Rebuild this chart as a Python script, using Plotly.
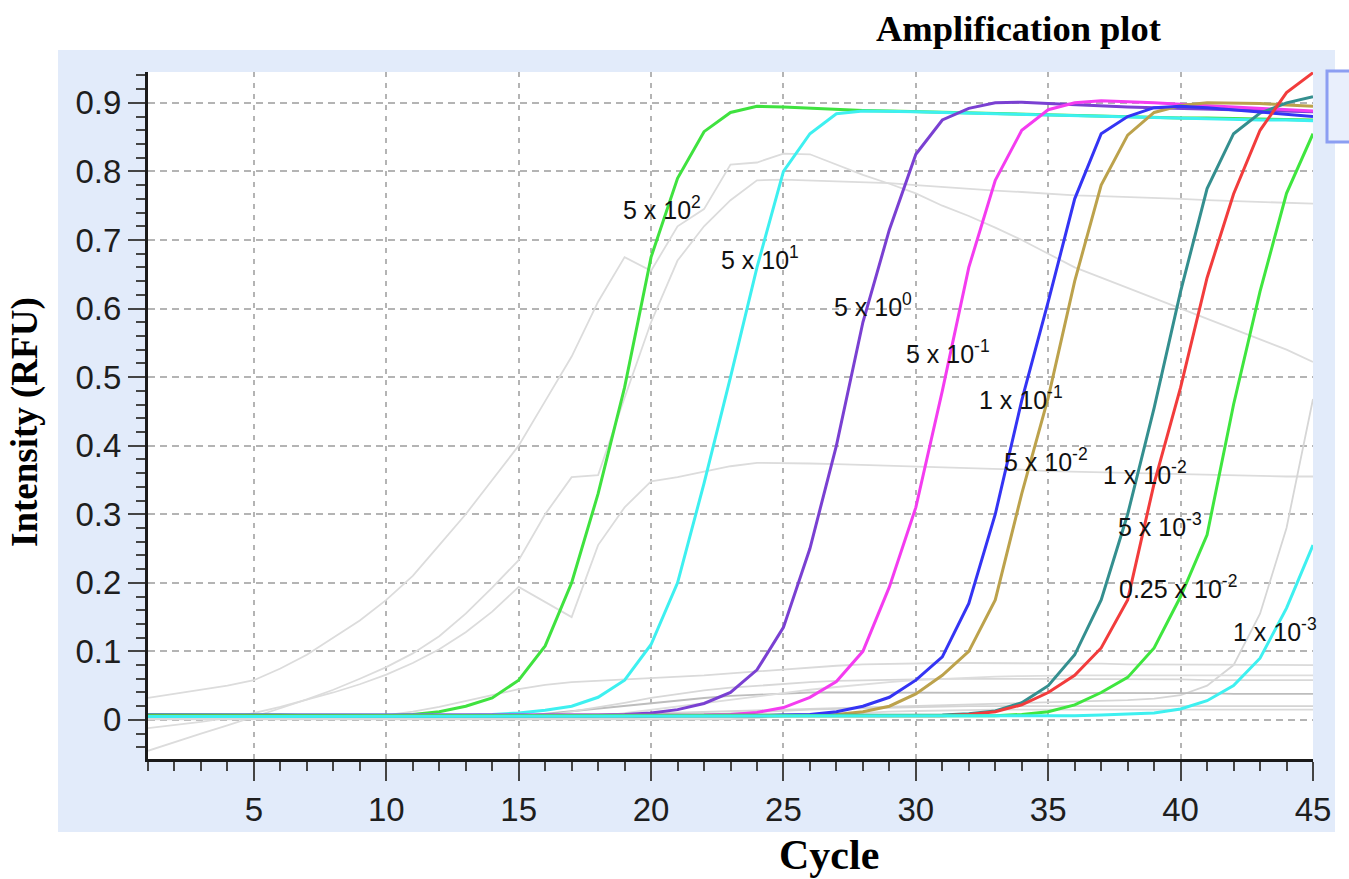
import plotly.graph_objects as go

# ---------------- data ----------------
cycles = [1, 2, 3, 4, 5, 6, 7, 8, 9, 10, 11, 12, 13, 14, 15, 16, 17, 18, 19, 20,
          21, 22, 23, 24, 25, 26, 27, 28, 29, 30, 31, 32, 33, 34, 35, 36, 37, 38, 39, 40,
          41, 42, 43, 44, 45]

# coloured amplification curves (RFU per cycle)
green_5e2 = [0.008, 0.008, 0.007, 0.007, 0.007, 0.007, 0.006, 0.006, 0.006, 0.006,
             0.008, 0.012, 0.020, 0.032, 0.058, 0.108, 0.200, 0.330, 0.485, 0.675,
             0.790, 0.858, 0.886, 0.895, 0.894, 0.892, 0.890, 0.889, 0.888, 0.887,
             0.886, 0.885, 0.884, 0.883, 0.882, 0.881, 0.880, 0.880, 0.879, 0.878,
             0.878, 0.877, 0.876, 0.876, 0.875]
cyan_5e1 = [0.007, 0.007, 0.007, 0.006, 0.006, 0.006, 0.006, 0.006, 0.006, 0.006,
            0.006, 0.006, 0.007, 0.008, 0.010, 0.014, 0.020, 0.033, 0.058, 0.110,
            0.200, 0.345, 0.500, 0.660, 0.800, 0.855, 0.884, 0.888, 0.888, 0.887,
            0.886, 0.885, 0.884, 0.883, 0.882, 0.881, 0.880, 0.879, 0.878, 0.878,
            0.877, 0.876, 0.875, 0.875, 0.874]
purple_5e0 = [0.007, 0.007, 0.006, 0.006, 0.006, 0.006, 0.006, 0.006, 0.006, 0.006,
              0.006, 0.006, 0.006, 0.006, 0.006, 0.006, 0.006, 0.007, 0.008, 0.010,
              0.015, 0.024, 0.040, 0.073, 0.135, 0.250, 0.400, 0.580, 0.715, 0.825,
              0.875, 0.892, 0.900, 0.901, 0.899, 0.897, 0.895, 0.894, 0.893, 0.892,
              0.891, 0.890, 0.889, 0.888, 0.887]
magenta_5em1 = [0.006, 0.006, 0.006, 0.006, 0.006, 0.006, 0.006, 0.006, 0.006, 0.006,
                0.006, 0.006, 0.006, 0.006, 0.006, 0.006, 0.006, 0.006, 0.006, 0.006,
                0.006, 0.007, 0.008, 0.011, 0.018, 0.033, 0.056, 0.100, 0.194, 0.310,
                0.480, 0.660, 0.787, 0.860, 0.890, 0.900, 0.903, 0.902, 0.900, 0.898,
                0.896, 0.894, 0.892, 0.890, 0.888]
blue_1em1 = [0.005, 0.005, 0.005, 0.005, 0.005, 0.005, 0.005, 0.005, 0.005, 0.005,
             0.005, 0.005, 0.005, 0.005, 0.005, 0.005, 0.005, 0.005, 0.005, 0.005,
             0.005, 0.005, 0.006, 0.006, 0.007, 0.008, 0.012, 0.020, 0.033, 0.058,
             0.092, 0.170, 0.300, 0.466, 0.610, 0.760, 0.855, 0.880, 0.893, 0.895,
             0.893, 0.890, 0.886, 0.883, 0.880]
gold_5em2 = [0.006, 0.006, 0.006, 0.006, 0.006, 0.006, 0.006, 0.006, 0.006, 0.006,
             0.006, 0.006, 0.006, 0.006, 0.006, 0.006, 0.006, 0.006, 0.006, 0.006,
             0.006, 0.006, 0.006, 0.006, 0.007, 0.007, 0.008, 0.012, 0.020, 0.038,
             0.065, 0.100, 0.175, 0.330, 0.470, 0.640, 0.780, 0.853, 0.886, 0.896,
             0.900, 0.900, 0.899, 0.897, 0.895]
teal_1em2 = [0.006, 0.006, 0.006, 0.006, 0.006, 0.006, 0.006, 0.006, 0.006, 0.006,
             0.006, 0.006, 0.006, 0.006, 0.006, 0.006, 0.006, 0.006, 0.006, 0.006,
             0.006, 0.006, 0.006, 0.006, 0.006, 0.006, 0.006, 0.006, 0.006, 0.006,
             0.007, 0.009, 0.013, 0.025, 0.050, 0.095, 0.175, 0.300, 0.455, 0.625,
             0.775, 0.855, 0.885, 0.900, 0.909]
red_5em3 = [0.006, 0.006, 0.006, 0.006, 0.006, 0.006, 0.006, 0.006, 0.006, 0.006,
            0.006, 0.006, 0.006, 0.006, 0.006, 0.006, 0.006, 0.006, 0.006, 0.006,
            0.006, 0.006, 0.006, 0.006, 0.006, 0.006, 0.006, 0.006, 0.006, 0.006,
            0.006, 0.008, 0.012, 0.022, 0.040, 0.065, 0.105, 0.175, 0.345, 0.485,
            0.645, 0.767, 0.860, 0.915, 0.944]
green_025em2 = [0.006, 0.006, 0.006, 0.006, 0.006, 0.006, 0.006, 0.006, 0.006, 0.006,
                0.006, 0.006, 0.006, 0.006, 0.006, 0.006, 0.006, 0.006, 0.006, 0.006,
                0.006, 0.006, 0.006, 0.006, 0.006, 0.006, 0.006, 0.006, 0.006, 0.006,
                0.006, 0.006, 0.006, 0.008, 0.012, 0.022, 0.040, 0.062, 0.105, 0.180,
                0.270, 0.460, 0.625, 0.768, 0.855]
cyan_1em3 = [0.005, 0.005, 0.005, 0.005, 0.005, 0.005, 0.005, 0.005, 0.005, 0.005,
             0.005, 0.005, 0.005, 0.005, 0.005, 0.005, 0.005, 0.005, 0.005, 0.005,
             0.005, 0.005, 0.005, 0.005, 0.005, 0.005, 0.005, 0.005, 0.005, 0.005,
             0.005, 0.005, 0.005, 0.005, 0.005, 0.006, 0.007, 0.008, 0.010, 0.016,
             0.028, 0.050, 0.090, 0.163, 0.255]

# grey (non-labelled) background wells
grey_a = [0.032, 0.038, 0.044, 0.050, 0.058, 0.075, 0.095, 0.120, 0.145, 0.175,
          0.210, 0.255, 0.300, 0.350, 0.400, 0.465, 0.530, 0.610, 0.675, 0.655,
          0.720, 0.745, 0.810, 0.813, 0.826, 0.825, 0.810, 0.795, 0.782, 0.768,
          0.750, 0.735, 0.718, 0.700, 0.680, 0.660, 0.645, 0.630, 0.615, 0.600,
          0.585, 0.570, 0.555, 0.540, 0.522]
grey_b = [-0.045, -0.032, -0.020, -0.008, 0.004, 0.017, 0.030, 0.044, 0.060, 0.077,
          0.097, 0.122, 0.155, 0.193, 0.233, 0.300, 0.354, 0.357, 0.470, 0.580,
          0.670, 0.720, 0.758, 0.787, 0.788, 0.787, 0.786, 0.785, 0.783, 0.780,
          0.777, 0.775, 0.772, 0.770, 0.767, 0.765, 0.764, 0.763, 0.762, 0.760,
          0.758, 0.757, 0.756, 0.754, 0.753]
grey_c = [-0.012, -0.008, -0.003, 0.003, 0.010, 0.019, 0.029, 0.040, 0.052, 0.066,
          0.083, 0.103, 0.128, 0.158, 0.194, 0.172, 0.150, 0.255, 0.310, 0.348,
          0.354, 0.362, 0.370, 0.375, 0.375, 0.374, 0.373, 0.372, 0.371, 0.370,
          0.369, 0.368, 0.366, 0.365, 0.363, 0.362, 0.361, 0.360, 0.359, 0.358,
          0.357, 0.357, 0.356, 0.355, 0.355]
grey_d = [0.003, 0.003, 0.003, 0.003, 0.003, 0.003, 0.003, 0.003, 0.003, 0.003,
          0.003, 0.003, 0.003, 0.003, 0.004, 0.005, 0.006, 0.007, 0.008, 0.010,
          0.011, 0.012, 0.013, 0.014, 0.015, 0.016, 0.017, 0.018, 0.019, 0.020,
          0.021, 0.022, 0.023, 0.024, 0.025, 0.026, 0.027, 0.029, 0.031, 0.036,
          0.050, 0.080, 0.155, 0.280, 0.468]
grey_e = [0.004, 0.004, 0.004, 0.004, 0.004, 0.004, 0.004, 0.004, 0.004, 0.007,
          0.012, 0.019, 0.027, 0.036, 0.045, 0.051, 0.055, 0.057, 0.058, 0.060,
          0.062, 0.065, 0.068, 0.071, 0.074, 0.077, 0.079, 0.081, 0.082, 0.083,
          0.083, 0.083, 0.083, 0.082, 0.082, 0.082, 0.082, 0.081, 0.081, 0.081,
          0.081, 0.080, 0.080, 0.080, 0.080]
grey_f = [0.002, 0.002, 0.002, 0.002, 0.002, 0.002, 0.002, 0.002, 0.002, 0.002,
          0.002, 0.002, 0.002, 0.002, 0.005, 0.009, 0.013, 0.017, 0.021, 0.025,
          0.029, 0.032, 0.035, 0.037, 0.039, 0.040, 0.040, 0.040, 0.040, 0.040,
          0.040, 0.040, 0.040, 0.040, 0.040, 0.040, 0.039, 0.039, 0.039, 0.039,
          0.039, 0.038, 0.038, 0.038, 0.038]
grey_g = [0.002, 0.002, 0.002, 0.002, 0.002, 0.002, 0.002, 0.002, 0.002, 0.002,
          0.002, 0.002, 0.002, 0.002, 0.002, 0.006, 0.012, 0.018, 0.025, 0.032,
          0.038, 0.043, 0.047, 0.050, 0.053, 0.055, 0.057, 0.058, 0.059, 0.060,
          0.060, 0.060, 0.060, 0.060, 0.060, 0.060, 0.059, 0.059, 0.059, 0.059,
          0.058, 0.058, 0.058, 0.058, 0.058]
grey_h = [0.002, 0.002, 0.002, 0.002, 0.002, 0.002, 0.002, 0.002, 0.002, 0.002,
          0.002, 0.002, 0.002, 0.002, 0.002, 0.002, 0.002, 0.005, 0.010, 0.015,
          0.020, 0.025, 0.030, 0.035, 0.040, 0.044, 0.048, 0.052, 0.055, 0.058,
          0.060, 0.062, 0.063, 0.064, 0.065, 0.065, 0.065, 0.065, 0.065, 0.065,
          0.065, 0.065, 0.065, 0.065, 0.065]
grey_i = [0.002, 0.002, 0.002, 0.002, 0.002, 0.002, 0.002, 0.002, 0.002, 0.002,
          0.002, 0.002, 0.002, 0.002, 0.002, 0.002, 0.002, 0.002, 0.002, 0.004,
          0.006, 0.008, 0.010, 0.012, 0.013, 0.015, 0.016, 0.017, 0.018, 0.019,
          0.020, 0.020, 0.020, 0.020, 0.020, 0.020, 0.020, 0.020, 0.020, 0.020,
          0.020, 0.020, 0.020, 0.020, 0.020]
grey_j = [0.001, 0.001, 0.001, 0.001, 0.001, 0.001, 0.001, 0.001, 0.001, 0.001,
          0.001, 0.001, 0.001, 0.001, 0.001, 0.001, 0.001, 0.001, 0.001, 0.001,
          0.001, 0.001, 0.001, 0.003, 0.005, 0.007, 0.009, 0.010, 0.012, 0.013,
          0.014, 0.014, 0.015, 0.015, 0.015, 0.015, 0.015, 0.015, 0.015, 0.015,
          0.015, 0.015, 0.015, 0.015, 0.015]

grey_series = [grey_a, grey_b, grey_c, grey_d, grey_e, grey_f, grey_g, grey_h, grey_i, grey_j]
grey_colors = ["#dcdcdc", "#dcdcdc", "#dcdcdc", "#d6d6d6", "#dadada",
               "#bdbdbd", "#d8d8d8", "#dddddd", "#d4d4d4", "#dadada"]

coloured_series = [green_5e2, cyan_5e1, purple_5e0, magenta_5em1, gold_5em2,
                   teal_1em2, blue_1em1, red_5em3, green_025em2, cyan_1em3]
coloured_names = ["5 x 10^2", "5 x 10^1", "5 x 10^0", "5 x 10^-1", "5 x 10^-2",
                  "1 x 10^-2", "1 x 10^-1", "5 x 10^-3", "0.25 x 10^-2", "1 x 10^-3"]
coloured_colors = ["#3fe23f", "#3ef0f0", "#7a40d2", "#f43cf0", "#bca24c",
                   "#348f8f", "#3434f4", "#f23c3c", "#3fe63f", "#3ef0f0"]

# curve labels: text, cycle, RFU
label_texts = ["5 x 10<sup>2</sup>", "5 x 10<sup>1</sup>", "5 x 10<sup>0</sup>",
               "5 x 10<sup>-1</sup>", "1 x 10<sup>-1</sup>", "5 x 10<sup>-2</sup>",
               "1 x 10<sup>-2</sup>", "5 x 10<sup>-3</sup>", "0.25 x 10<sup>-2</sup>",
               "1 x 10<sup>-3</sup>"]
label_x = [18.85, 22.55, 26.82, 29.55, 32.3, 33.25, 37.0, 37.55, 37.6, 41.92]
label_y = [0.746, 0.673, 0.605, 0.536, 0.469, 0.379, 0.360, 0.284, 0.194, 0.131]

# ---------------- figure ----------------
fig = go.Figure()

for ys, col in zip(grey_series, grey_colors):
    fig.add_trace(go.Scatter(x=cycles, y=ys, mode="lines",
                             line=dict(color=col, width=1.8), hoverinfo="skip",
                             showlegend=False))

for ys, col, nm in zip(coloured_series, coloured_colors, coloured_names):
    fig.add_trace(go.Scatter(x=cycles, y=ys, mode="lines", name=nm,
                             line=dict(color=col, width=3), showlegend=False))

for t, lx, ly in zip(label_texts, label_x, label_y):
    fig.add_annotation(x=lx, y=ly, xref="x", yref="y", text=t, showarrow=False,
                       xanchor="left", yanchor="middle",
                       font=dict(family="Liberation Sans, Arial", size=25, color="#111"))

W, H = 1349, 879
L, R, T, B = 148, 36, 72, 120
pw, ph = W - L - R, H - T - B


def px(xp):
    return (xp - L) / pw


def py(yp):
    return (H - B - yp) / ph


shapes = [
    # light-blue frame
    dict(type="rect", xref="paper", yref="paper", x0=px(58), x1=px(1335),
         y0=py(832), y1=py(50), fillcolor="#e2ebfa", line=dict(width=0), layer="below"),
    # white plotting area
    dict(type="rect", xref="paper", yref="paper", x0=0, x1=1, y0=0, y1=1,
         fillcolor="white", line=dict(width=0), layer="below"),
    # small outlined box at right edge
    dict(type="rect", xref="paper", yref="paper", x0=px(1327), x1=px(1362),
         y0=py(142), y1=py(71), fillcolor="#e9effc",
         line=dict(color="#8c9ef2", width=3), layer="above"),
]

serif = "Liberation Serif, Times New Roman, serif"
fig.add_annotation(x=px(1018), y=py(28), xref="paper", yref="paper",
                   text="<b>Amplification plot</b>", showarrow=False,
                   xanchor="center", yanchor="middle",
                   font=dict(family=serif, size=36.5, color="black"))
fig.add_annotation(x=px(25), y=py(422), xref="paper", yref="paper",
                   text="<b>Intensity (RFU)</b>", showarrow=False, textangle=-90,
                   xanchor="center", yanchor="middle",
                   font=dict(family=serif, size=37, color="black"))
fig.add_annotation(x=px(829), y=py(855), xref="paper", yref="paper",
                   text="<b>Cycle</b>", showarrow=False,
                   xanchor="center", yanchor="middle",
                   font=dict(family=serif, size=42, color="black"))

tickfont = dict(family="Liberation Sans, Arial", size=33, color="#1e1e1e")

fig.update_layout(
    width=W, height=H,
    margin=dict(l=L, r=R, t=T, b=B, pad=0),
    paper_bgcolor="white",
    plot_bgcolor="rgba(0,0,0,0)",
    shapes=shapes,
    showlegend=False,
    xaxis=dict(range=[1, 45], tickmode="linear", tick0=0, dtick=5,
               ticks="outside", ticklen=19, tickwidth=2, tickcolor="#444",
               showline=True, linewidth=3, linecolor="#1a1a1a",
               showgrid=True, gridcolor="#b4b4b4", gridwidth=1.5, griddash="5px,6px",
               zeroline=False, tickfont=tickfont,
               minor=dict(dtick=1, ticks="outside", ticklen=9, tickwidth=2,
                          tickcolor="#444", showgrid=False)),
    yaxis=dict(range=[-0.057, 0.945], tickmode="linear", tick0=0, dtick=0.1,
               ticks="outside", ticklen=17, tickwidth=2, tickcolor="#444",
               showline=True, linewidth=3, linecolor="#1a1a1a",
               showgrid=True, gridcolor="#b4b4b4", gridwidth=1.5, griddash="7px,5px",
               zeroline=False, tickfont=tickfont,
               minor=dict(dtick=0.02, ticks="outside", ticklen=9, tickwidth=2,
                          tickcolor="#444", showgrid=False)),
)

fig.write_html("out.html",
               config={"displayModeBar": False},
               post_script="document.body.style.margin='0px';"
                           "document.body.style.overflow='hidden';")
